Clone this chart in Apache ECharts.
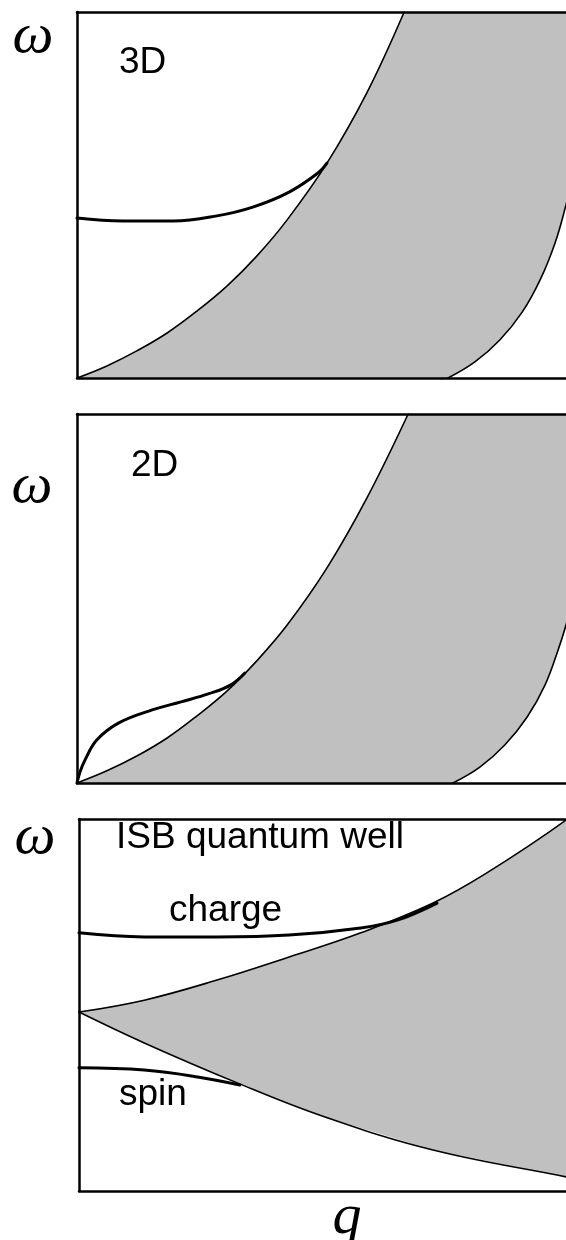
<!DOCTYPE html>
<html>
<head>
<meta charset="utf-8">
<script src="https://cdn.jsdelivr.net/npm/echarts@6/dist/echarts.min.js"></script>
<style>html,body{margin:0;padding:0;background:#fff}#c{width:566px;height:1240px}</style>
</head>
<body>
<div id="c"></div>
<script>
// Panel labels
const panelLabels = ['3D', '2D', 'ISB quantum well'];
const modeLabels = ['charge', 'spin'];
const yAxisName = 'ω';
const xAxisName = 'q';

// Visible q range per panel (the frame runs past the right edge of the picture)
const qMax = [98.2, 98.2, 97.8];

// Panel 1 (3D) — q, ω in arbitrary units (0..100)
const p1UpperQ = [0, 6.0, 12.0, 18.1, 24.1, 30.1, 36.1, 42.2, 50.2, 58.2, 65.7];
const p1UpperW = [0, 3.3, 7.4, 12.3, 18.3, 25.1, 33.3, 43.2, 58.7, 77.9, 100];
const p1LowerQ = [74.5, 79.9, 84.9, 89.4, 93.0, 96.0, 98.2, 100];
const p1LowerW = [0, 4.4, 10.4, 18.0, 26.8, 36.9, 47.3, 57.0];
const p1ModeQ = [0, 9.2, 19.3, 28.1, 35.3, 42.6, 48.4, 50.2];
const p1ModeW = [43.7, 42.9, 42.9, 44.3, 46.7, 50.8, 56.0, 58.7];

// Panel 2 (2D)
const p2UpperQ = [0, 6.0, 12.0, 18.1, 24.1, 30.1, 36.1, 42.2, 50.2, 58.2, 66.5];
const p2UpperW = [0, 3.3, 7.3, 12.2, 18.2, 24.9, 33.1, 42.8, 58.3, 77.2, 100];
const p2LowerQ = [75.5, 80.9, 85.9, 90.4, 94.0, 96.6, 98.2, 100];
const p2LowerW = [0, 4.3, 10.3, 17.9, 26.6, 36.0, 42.8, 52.3];
const p2ModeQ = [0, 0.6, 1.6, 4.0, 8.4, 15.1, 20.9, 26.5, 30.9, 33.7];
const p2ModeW = [0, 3.0, 6.2, 11.7, 16.3, 19.8, 22.0, 24.2, 26.6, 29.8];

// Panel 3 (ISB quantum well)
const p3UpperQ = [0, 13.1, 27.7, 42.2, 56.6, 71.1, 81.9, 97.8, 100];
const p3UpperW = [48.1, 51.3, 56.7, 62.9, 69.4, 77.4, 85.5, 99.7, 103];
const p3LowerQ = [0, 13.1, 31.9, 49.4, 71.1, 97.8, 100];
const p3LowerW = [48.1, 39.8, 29.0, 19.9, 11.0, 3.8, 3.2];
const p3ChargeQ = [0, 13.1, 27.7, 42.2, 56.6, 63.9, 71.9];
const p3ChargeW = [69.4, 68.3, 68.3, 68.8, 70.7, 72.8, 77.4];
const p3SpinQ = [0, 13.1, 24.1, 32.3];
const p3SpinW = [33.1, 32.5, 30.6, 28.5];

const zip = (a, b) => a.map((v, i) => [v, b[i]]);

const grids = [
  {left: 77, top: 12, right: 0, height: 366},
  {left: 77, top: 414, right: 0, height: 369},
  {left: 79, top: 819, right: 0, height: 372}
];

const frameLine = {show: true, onZero: false, lineStyle: {color: '#000', width: 2.5}};
const xAxes = [], yAxes = [], series = [];
grids.forEach((g, i) => {
  xAxes.push({type: 'value', gridIndex: i, min: 0, max: qMax[i], position: 'bottom', z: 10,
    axisLine: frameLine, axisTick: {show: false}, axisLabel: {show: false}, splitLine: {show: false}});
  xAxes.push({type: 'value', gridIndex: i, min: 0, max: qMax[i], position: 'top', z: 10,
    axisLine: frameLine, axisTick: {show: false}, axisLabel: {show: false}, splitLine: {show: false}});
  yAxes.push({type: 'value', gridIndex: i, min: 0, max: 100, position: 'left', z: 10,
    axisLine: frameLine, axisTick: {show: false}, axisLabel: {show: false}, splitLine: {show: false}});
});

function fillSeries(idx, upper, lowerRev) {
  return {
    type: 'custom', coordinateSystem: 'cartesian2d', xAxisIndex: idx * 2, yAxisIndex: idx,
    clip: true, silent: true, z: 1,
    data: [[0, 0]],
    renderItem: function (params, api) {
      const pts = upper.concat(lowerRev).map(p => api.coord(p));
      return {type: 'polygon', shape: {points: pts}, style: {fill: '#c0c0c0', stroke: null}};
    }
  };
}
function lineSeries(idx, data, width) {
  return {
    type: 'line', xAxisIndex: idx * 2, yAxisIndex: idx, data: data, smooth: 0.4,
    showSymbol: false, silent: true, clip: true, z: 3,
    lineStyle: {color: '#000', width: width, cap: 'round'}
  };
}

// Panel 1
const p1U = zip(p1UpperQ, p1UpperW), p1L = zip(p1LowerQ, p1LowerW);
series.push(fillSeries(0, p1U.concat([[100, 100]]), p1L.slice().reverse()));
series.push(lineSeries(0, p1U, 1.6));
series.push(lineSeries(0, p1L, 1.6));
series.push(lineSeries(0, zip(p1ModeQ, p1ModeW), 3));
// Panel 2
const p2U = zip(p2UpperQ, p2UpperW), p2L = zip(p2LowerQ, p2LowerW);
series.push(fillSeries(1, p2U.concat([[100, 100]]), p2L.slice().reverse()));
series.push(lineSeries(1, p2U, 1.6));
series.push(lineSeries(1, p2L, 1.6));
series.push(lineSeries(1, zip(p2ModeQ, p2ModeW), 3));
// Panel 3
const p3U = zip(p3UpperQ, p3UpperW), p3L = zip(p3LowerQ, p3LowerW);
series.push(fillSeries(2, p3U, p3L.slice(1).reverse()));
series.push(lineSeries(2, p3U, 1.6));
series.push(lineSeries(2, p3L, 1.6));
series.push(lineSeries(2, zip(p3ChargeQ, p3ChargeW), 3));
series.push(lineSeries(2, zip(p3SpinQ, p3SpinW), 3));

const sans = '37px "Liberation Sans", Arial, sans-serif';
const serifIt = 'italic 58px "Liberation Serif", "Times New Roman", serif';
function txt(x, y, s, font, align) {
  return {type: 'text', x: x, y: y, z: 20, silent: true,
    style: {text: s, font: font, fill: '#000', align: align || 'left', verticalAlign: 'middle'}};
}

const chart = echarts.init(document.getElementById('c'), null, {renderer: 'canvas'});
chart.setOption({
  animation: false,
  backgroundColor: '#fff',
  grid: grids,
  xAxis: xAxes,
  yAxis: yAxes,
  series: series,
  graphic: [
    txt(119, 63, panelLabels[0], sans),
    txt(131, 466, panelLabels[1], sans),
    txt(116, 838, panelLabels[2], sans),
    txt(169, 911, modeLabels[0], sans),
    txt(119, 1095, modeLabels[1], sans),
    txt(33, 37, yAxisName, serifIt, 'center'),
    txt(32, 487, yAxisName, serifIt, 'center'),
    txt(35, 838, yAxisName, serifIt, 'center'),
    txt(347, 1218, xAxisName, serifIt, 'center')
  ]
});
</script>
</body>
</html>
